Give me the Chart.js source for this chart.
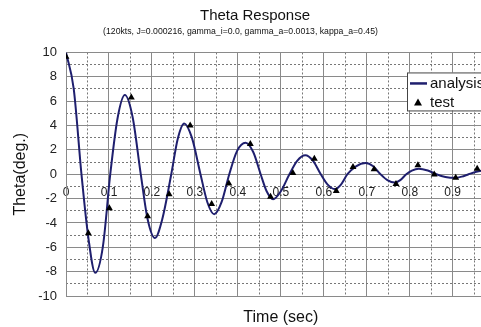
<!DOCTYPE html>
<html>
<head>
<meta charset="utf-8">
<script src="https://cdn.jsdelivr.net/npm/chart.js@4.4.1/dist/chart.umd.min.js"></script>
<style>
	html, body { margin: 0; padding: 0; background: #fff; overflow: hidden; }
	#wrap { width: 510px; height: 327px; }
</style>
</head>
<body>
<div id="wrap"><canvas id="canvas" width="510" height="327"></canvas></div>
<script>
// analysis curve (time in sec, theta in deg)
const analysisTime = [
	0.000, 0.018, 0.036, 0.052, 0.068, 0.086, 0.103, 0.120, 0.137, 0.155,
	0.174, 0.190, 0.207, 0.224, 0.245, 0.260, 0.275, 0.293, 0.313, 0.329,
	0.345, 0.362, 0.380, 0.398, 0.418, 0.436, 0.453, 0.467, 0.482, 0.500,
	0.520, 0.538, 0.557, 0.575, 0.593, 0.609, 0.626, 0.640, 0.655, 0.675,
	0.697, 0.715, 0.732, 0.748, 0.765, 0.778, 0.792, 0.805, 0.821, 0.842,
	0.862, 0.883, 0.905, 0.921, 0.937, 0.955, 0.975, 1.000,
];
const analysisTheta = [
	10.0, 7.0, 0.0, -5.2, -8.1, -5.9, 0.0, 4.6, 6.5, 4.7,
	0.0, -3.7, -5.24, -3.7, 0.0, 2.9, 4.17, 3.0, 0.0, -2.3,
	-3.29, -2.3, 0.0, 1.9, 2.58, 1.8, 0.0, -1.4, -2.05, -1.4,
	0.0, 1.1, 1.56, 1.1, 0.0, -0.85, -1.22, -0.85, 0.0, 0.65,
	0.92, 0.65, 0.0, -0.48, -0.68, -0.48, 0.0, 0.3, 0.45, 0.3,
	0.0, -0.22, -0.3, -0.2, 0.0, 0.2, 0.3, 0.3,
];

// test points (triangles)
const testTime = [
	0.000, 0.052, 0.101, 0.152, 0.190, 0.240, 0.289, 0.339, 0.379, 0.429,
	0.476, 0.528, 0.578, 0.629, 0.668, 0.717, 0.768, 0.819, 0.857, 0.907,
	0.957,
];
const testTheta = [
	9.65, -4.85, -2.8, 6.3, -3.45, -1.65, 4.0, -2.45, -0.77, 2.48,
	-1.84, 0.11, 1.27, -1.38, 0.6, 0.4, -0.8, 0.74, -0.03, -0.3,
	0.44,
];

// axis ticks
const timeTicks = [0, 0.1, 0.2, 0.3, 0.4, 0.5, 0.6, 0.7, 0.8, 0.9, 1.0];
const timeMinorTicks = [0.05, 0.15, 0.25, 0.35, 0.45, 0.55, 0.65, 0.75, 0.85, 0.95];
const thetaTicks = [-10, -8, -6, -4, -2, 0, 2, 4, 6, 8, 10];
const thetaMinorTicks = [-9, -7, -5, -3, -1, 1, 3, 5, 7, 9];

const FONT = "'Liberation Sans', Arial, sans-serif";

// legend box drawn over the plot, like the original
const boxLegend = {
	id: "boxLegend",
	afterDraw(chart) {
		const c = chart.ctx;
		const area = chart.chartArea;
		const left = area.left + 341;
		const top = area.top + 20;
		const [line, test] = chart.data.datasets;

		c.save();
		c.fillStyle = "#fff";
		c.fillRect(left, top, 120, 38);
		c.strokeStyle = "#444";
		c.lineWidth = 1;
		c.strokeRect(left + 0.5, top + 0.5, 120, 38);

		c.strokeStyle = line.borderColor;
		c.lineWidth = 2.5;
		c.beginPath();
		c.moveTo(left + 3, top + 11);
		c.lineTo(left + 20, top + 11);
		c.stroke();

		c.fillStyle = test.backgroundColor;
		c.beginPath();
		c.moveTo(left + 11, top + 26);
		c.lineTo(left + 15, top + 33);
		c.lineTo(left + 7, top + 33);
		c.closePath();
		c.fill();

		c.fillStyle = "#111";
		c.font = "15px " + FONT;
		c.textBaseline = "middle";
		c.fillText(line.label, left + 23, top + 11);
		c.fillText(test.label, left + 23, top + 30);
		c.restore();
	},
};

window.onload = () => {
	const canvas = document.getElementById("canvas").getContext("2d");

	const config = {
		type: "scatter",
		data: {
			datasets: [{
				label: "analysis",
				data: analysisTime.map((t, i) => ({ x: t, y: analysisTheta[i] })),
				showLine: true,
				borderColor: "#1f1f6e",
				borderWidth: 2,
				pointRadius: 0,
				cubicInterpolationMode: "monotone",
				order: 2,
			}, {
				label: "test",
				data: testTime.map((t, i) => ({ x: t, y: testTheta[i] })),
				pointStyle: "triangle",
				pointRadius: 4,
				backgroundColor: "#000",
				borderColor: "#000",
				borderWidth: 0,
				order: 1,
			}],
		},
		options: {
			responsive: false,
			animation: false,
			layout: { padding: 0 },
			plugins: {
				legend: { display: false },
				tooltip: { enabled: false },
				title: {
					display: true,
					text: "Theta Response",
					color: "#111",
					font: { family: FONT, size: 15, weight: "normal" },
					padding: { top: 7, bottom: 0 },
				},
				subtitle: {
					display: true,
					text: "(120kts, J=0.000216, gamma_i=0.0, gamma_a=0.0013, kappa_a=0.45)            ",
					color: "#111",
					font: { family: FONT, size: 8.7 },
					padding: { top: 1, bottom: 16 },
				},
			},
			scales: {
				x: {
					type: "linear",
					min: 0,
					max: 1,
					position: { y: 0 },
					afterBuildTicks: (s) => { s.ticks = timeTicks.map((v) => ({ value: v })); },
					ticks: {
						callback: (v) => String(Math.round(v * 10) / 10),
						padding: 11,
						color: "#222",
						font: { family: FONT, size: 12 },
						maxRotation: 0,
						autoSkip: false,
					},
					grid: { color: "#8a8a8a", lineWidth: 1, drawTicks: false },
					border: { display: false },
				},
				xMinor: {
					type: "linear",
					min: 0,
					max: 1,
					position: "bottom",
					afterBuildTicks: (s) => { s.ticks = timeMinorTicks.map((v) => ({ value: v })); },
					ticks: { display: false },
					grid: { color: "#777", lineWidth: 1, drawTicks: false },
					border: { display: false, dash: [2, 2] },
					title: {
						display: true,
						text: "Time (sec)",
						color: "#111",
						font: { family: FONT, size: 16 },
						padding: { top: 0, bottom: 0 },
					},
					afterFit: (s) => { s.height = 31; },
				},
				y: {
					type: "linear",
					min: -10,
					max: 10,
					position: "left",
					afterBuildTicks: (s) => { s.ticks = thetaTicks.map((v) => ({ value: v })); },
					ticks: {
						padding: 9,
						color: "#222",
						font: { family: FONT, size: 13 },
					},
					grid: { color: "#8a8a8a", lineWidth: 1, drawTicks: false },
					border: { display: true, color: "#8a8a8a" },
					title: {
						display: true,
						text: "Theta(deg.)",
						color: "#111",
						font: { family: FONT, size: 16 },
						padding: { top: 11, bottom: 0 },
					},
					afterFit: (s) => { s.width = 66; },
				},
				yMinor: {
					type: "linear",
					min: -10,
					max: 10,
					position: "right",
					afterBuildTicks: (s) => { s.ticks = thetaMinorTicks.map((v) => ({ value: v })); },
					ticks: { display: false },
					grid: { color: "#777", lineWidth: 1, drawTicks: false },
					border: { display: false, dash: [2, 2] },
					afterFit: (s) => { s.width = 0; },
				},
			},
		},
		plugins: [boxLegend],
	};

	new Chart(canvas, config);
};
</script>
</body>
</html>
